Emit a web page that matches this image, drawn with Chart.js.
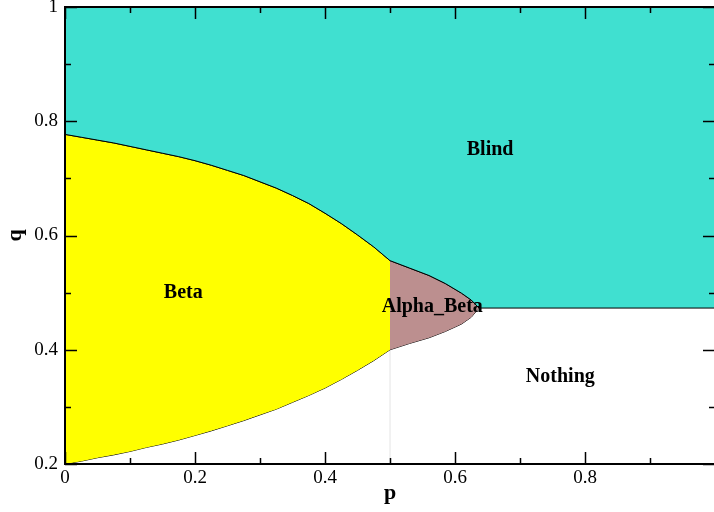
<!DOCTYPE html>
<html>
<head>
<meta charset="utf-8">
<script src="https://cdn.jsdelivr.net/npm/chart.js@4/dist/chart.umd.min.js"></script>
<style>
  html, body { margin: 0; padding: 0; background: #fff; overflow: hidden; }
  canvas { display: block; }
</style>
</head>
<body>
<canvas id="phase" width="716" height="512"></canvas>
<script>
// region boundaries (p, q)
var betaP      = [0, 0.025, 0.05, 0.075, 0.1, 0.125, 0.15, 0.175, 0.2, 0.225, 0.25,
                  0.275, 0.3, 0.325, 0.35, 0.375, 0.4, 0.425, 0.45, 0.475, 0.5]
var betaTop    = [0.777, 0.772, 0.767, 0.762, 0.756, 0.750, 0.744, 0.738, 0.731, 0.723, 0.714,
                  0.705, 0.694, 0.683, 0.670, 0.656, 0.639, 0.621, 0.601, 0.580, 0.556]
var betaBottom = [0.2, 0.205, 0.211, 0.216, 0.222, 0.229, 0.235, 0.242, 0.25, 0.258, 0.267,
                  0.276, 0.286, 0.296, 0.308, 0.32, 0.333, 0.348, 0.364, 0.381, 0.4]

var alphaP      = [0.5, 0.53, 0.56, 0.585, 0.61, 0.625, 0.637]
var alphaTop    = [0.556, 0.543, 0.530, 0.516, 0.499, 0.487, 0.473]
var alphaBottom = [0.4, 0.411, 0.421, 0.432, 0.445, 0.457, 0.473]

var blindEdgeP = [0.637, 1]
var blindEdgeQ = [0.473, 0.473]

var regionNames = ['Blind', 'Beta', 'Alpha_Beta', 'Nothing']
var regionP     = [0.654, 0.182, 0.565, 0.762]
var regionQ     = [0.750, 0.500, 0.476, 0.352]

var xTicks = [0, 0.2, 0.4, 0.6, 0.8]
var yTicks = [0.2, 0.4, 0.6, 0.8, 1]

function pts(xs, ys) {
    return xs.map((x, i) => ({x: x, y: ys[i]}))
}

// Blind is everything above the upper boundary
var blindLine = pts(betaP, betaTop)
    .concat(pts(alphaP.slice(1), alphaTop.slice(1)))
    .concat(pts(blindEdgeP.slice(1), blindEdgeQ.slice(1)))

var serif = "'Liberation Serif', 'Times New Roman', serif"

var data = {
    datasets: [
        {
            label: 'Blind',
            data: blindLine,
            borderColor: '#000',
            borderWidth: 1,
            backgroundColor: '#40e0d0',
            fill: 'end'
        },
        {
            label: 'Beta',
            data: pts(betaP, betaTop),
            borderColor: '#000',
            borderWidth: 1,
            backgroundColor: '#ffff00',
            fill: '+1'
        },
        {
            label: 'Beta bottom',
            data: pts(betaP, betaBottom),
            borderColor: '#000',
            borderWidth: 1,
            fill: false
        },
        {
            label: 'Alpha_Beta',
            data: pts(alphaP, alphaTop),
            borderColor: '#000',
            borderWidth: 1,
            backgroundColor: '#bc8f8f',
            fill: '+1'
        },
        {
            label: 'Alpha_Beta bottom',
            data: pts(alphaP, alphaBottom),
            borderColor: '#000',
            borderWidth: 1,
            fill: false
        },
        {
            label: 'divider',
            data: pts([0.5, 0.5], [0.2, 0.4]),
            borderColor: '#e4e4e4',
            borderWidth: 1,
            fill: false
        }
    ]
}

// frame, inward ticks on all four sides, region names
var decor = {
    id: 'decor',
    afterDatasetsDraw(chart) {
        var ctx = chart.ctx
        var a = chart.chartArea
        var xs = chart.scales.x
        var ys = chart.scales.y
        ctx.save()
        ctx.strokeStyle = '#000'
        ctx.lineWidth = 2
        ctx.strokeRect(a.left, a.top, a.right - a.left, a.bottom - a.top)
        ctx.lineWidth = 1.5
        ctx.beginPath()
        for (var k = 0; k <= 10; k++) {
            var v = k / 10
            var len = k % 2 == 0 ? 12 : 6
            var px = Math.round(xs.getPixelForValue(v)) + 0.5
            ctx.moveTo(px, a.bottom); ctx.lineTo(px, a.bottom - len)
            ctx.moveTo(px, a.top); ctx.lineTo(px, a.top + len)
        }
        for (var k = 2; k <= 10; k++) {
            var v = k / 10
            var len = k % 2 == 0 ? 12 : 6
            var py = Math.round(ys.getPixelForValue(v)) + 0.5
            ctx.moveTo(a.left, py); ctx.lineTo(a.left + len, py)
            ctx.moveTo(a.right, py); ctx.lineTo(a.right - len, py)
        }
        ctx.stroke()

        ctx.fillStyle = '#000'
        ctx.font = 'bold 20px ' + serif
        ctx.textAlign = 'center'
        ctx.textBaseline = 'middle'
        regionNames.forEach((name, i) => {
            ctx.fillText(name, xs.getPixelForValue(regionP[i]), ys.getPixelForValue(regionQ[i]))
        })
        ctx.restore()
    }
}

var options = {
    type: 'scatter',
    data: data,
    plugins: [decor],
    options: {
        responsive: false,
        animation: false,
        showLine: true,
        elements: {
            point: { radius: 0, hoverRadius: 0 },
            line: { tension: 0 }
        },
        layout: {
            padding: { top: 7, right: 1, left: 0, bottom: 0 }
        },
        scales: {
            x: {
                type: 'linear',
                min: 0,
                max: 1,
                afterBuildTicks: s => { s.ticks = xTicks.map(v => ({value: v})) },
                afterFit: s => { s.height = 48; s.paddingLeft = 0; s.paddingRight = 0 },
                grid: { display: false, drawTicks: false },
                border: { display: false },
                ticks: {
                    padding: 3,
                    color: '#000',
                    maxRotation: 0,
                    font: { family: serif, size: 19 }
                },
                title: {
                    display: true,
                    text: 'p',
                    color: '#000',
                    font: { family: serif, size: 22, weight: 'bold' },
                    padding: { top: 0, bottom: 5 }
                }
            },
            y: {
                type: 'linear',
                min: 0.2,
                max: 1,
                afterBuildTicks: s => { s.ticks = yTicks.map(v => ({value: v})) },
                afterFit: s => { s.width = 65; s.paddingTop = 0; s.paddingBottom = 0 },
                grid: { display: false, drawTicks: false },
                border: { display: false },
                ticks: {
                    padding: 7,
                    color: '#000',
                    font: { family: serif, size: 19 },
                    callback: v => String(Math.round(v * 10) / 10)
                },
                title: {
                    display: true,
                    text: 'q',
                    color: '#000',
                    font: { family: serif, size: 22, weight: 'bold' },
                    padding: { top: 2, bottom: 0 }
                }
            }
        },
        plugins: {
            legend: { display: false },
            tooltip: { enabled: false },
            title: { display: false }
        }
    }
}

var ctx = document.getElementById('phase').getContext('2d')
var chart = new Chart(ctx, options)
</script>
</body>
</html>
